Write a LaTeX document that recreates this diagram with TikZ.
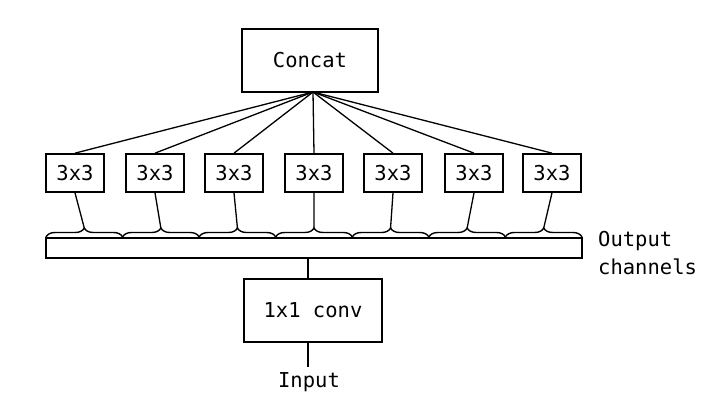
\documentclass[tikz,border=0pt]{standalone}
\usepackage{fontspec}
\setmonofont{DejaVu Sans Mono}
\usetikzlibrary{decorations.pathreplacing,calc}
\begin{document}
\begin{tikzpicture}[x=1pt,y=-1pt,
  box/.style={draw,line width=1.7pt,inner sep=0pt,font=\ttfamily\fontsize{20.5}{24}\selectfont},
  conn/.style={line width=1.3pt},
  lbl/.style={font=\ttfamily\fontsize{20.5}{28}\selectfont,inner sep=0pt},
  brc/.style={line width=1.4pt,decorate,decoration={brace,amplitude=9pt,aspect=0.5}}]
\useasboundingbox (0,0) rectangle (718,420);
\node[box,minimum width=136pt,minimum height=63pt] (concat) at (310,60.5) {Concat};
\coordinate (hub) at (313,92);
\foreach \i/\x in {1/75,2/155,3/234,4/314,5/393,6/474,7/552}{
  \node[box,minimum width=58pt,minimum height=38pt] (b\i) at (\x,173) {3x3};
}
\node[draw,line width=1.7pt,minimum width=536pt,minimum height=20pt,inner sep=0pt] (bar) at (314,248) {};
\foreach \i in {0,...,7}{
  \coordinate (s\i) at ({46+76.57*\i},237);
}
\foreach \i/\j in {0/1,1/2,2/3,3/4,4/5,5/6,6/7}{
  \draw[brc] (s\i) -- (s\j);
  \coordinate (t\j) at ($(s\i)!0.5!(s\j)+(0,-9)$);
}
\foreach \i in {1,...,7}{
  \draw[conn] (hub) -- (b\i.north);
  \draw[conn] (b\i.south) -- (t\i);
}
\node[box,minimum width=138pt,minimum height=63pt] (conv) at (313,310.5) {1x1 conv};
\node[lbl,anchor=north] (input) at (309,372) {Input};
\node[lbl,anchor=west,align=left] (out) at (598,253) {Output\\channels};
\coordinate (bartap) at (308,258);
\coordinate (convtop) at (308,279);
\coordinate (convbot) at (308,342);
\coordinate (inputtop) at (308,367);
\draw[conn] (bartap) -- (convtop);
\draw[conn] (convbot) -- (inputtop);
\end{tikzpicture}
\end{document}
